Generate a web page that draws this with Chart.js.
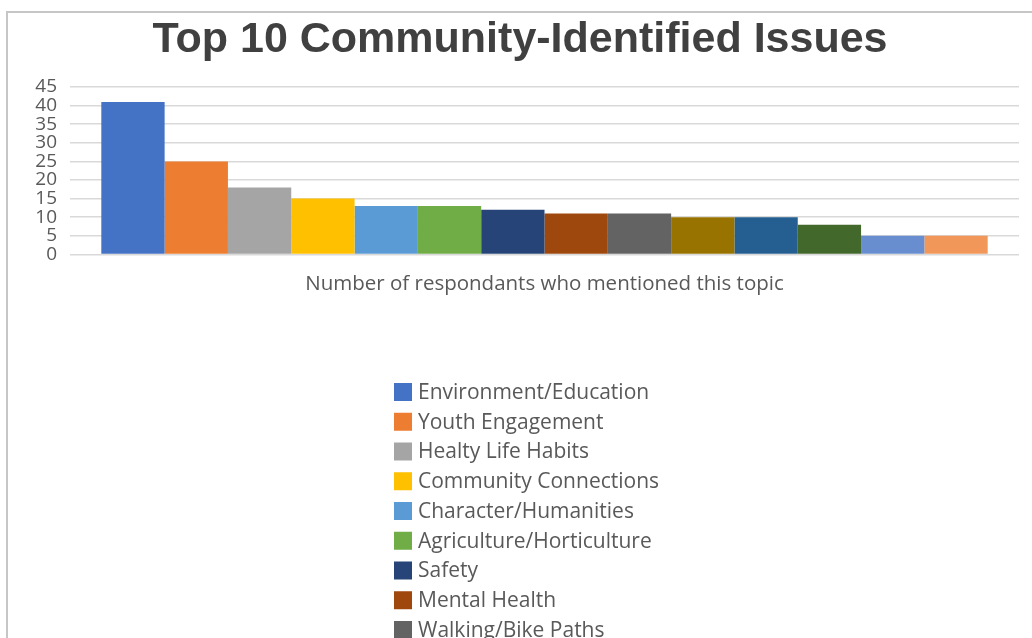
<!DOCTYPE html>
<html>
<head>
<meta charset="utf-8">
<script src="https://cdn.jsdelivr.net/npm/chart.js@4.4.0/dist/chart.umd.min.js"></script>
<style>
  html, body { margin: 0; padding: 0; background: #fff; overflow: hidden; }
  #frame {
    position: absolute; left: 6px; top: 11px;
    width: 1030px; height: 640px;
    border-left: 2px solid #c6c6c6; border-top: 2px solid #c6c6c6;
  }
  canvas { display: block; }
</style>
</head>
<body>
<div id="frame"><canvas id="grafico" width="1024" height="625"></canvas></div>
<script>
// dados
const categorias = ['Number of respondants who mentioned this topic'];
const temas = [
  'Environment/Education', 'Youth Engagement', 'Healty Life Habits',
  'Community Connections', 'Character/Humanities', 'Agriculture/Horticulture',
  'Safety', 'Mental Health', 'Walking/Bike Paths',
  'Topic 10', 'Topic 11', 'Topic 12', 'Topic 13', 'Topic 14'
];
const valores = [41, 25, 18, 15, 13, 13, 12, 11, 11, 10, 10, 8, 5, 5];
const cores = [
  '#4472C4', '#ED7D31', '#A5A5A5', '#FFC000', '#5B9BD5', '#70AD47', '#264478',
  '#9E480E', '#636363', '#997300', '#255E91', '#43682B', '#698ED0', '#F1975A'
];
const ticksY = [0, 5, 10, 15, 20, 25, 30, 35, 40, 45];

const corTexto = '#595959';

// legenda vertical, um item por linha (como no Excel)
const legendaVertical = {
  id: 'legendaVertical',
  afterDraw(chart) {
    const ctx = chart.ctx;
    const x0 = 386, y0 = 370, passo = 29.75, caixa = 18;
    ctx.save();
    ctx.font = '21px "Open Sans"';
    ctx.textBaseline = 'middle';
    ctx.textAlign = 'left';
    chart.data.datasets.forEach((ds, i) => {
      const y = y0 + i * passo;
      if (y > chart.height) return;
      ctx.fillStyle = ds.backgroundColor;
      ctx.fillRect(x0, y, caixa, caixa);
      ctx.fillStyle = corTexto;
      ctx.fillText(ds.label, x0 + 24, y + caixa / 2 + 1);
    });
    ctx.restore();
  }
};

new Chart(document.getElementById('grafico'), {
  type: 'bar',
  data: {
    labels: categorias,
    datasets: temas.map((t, i) => ({
      label: t,
      data: [valores[i]],
      backgroundColor: cores[i],
      borderWidth: 0,
      categoryPercentage: 0.934,
      barPercentage: 1
    }))
  },
  options: {
    responsive: false,
    animation: false,
    layout: { padding: { left: 13, right: 13, top: 0, bottom: 325 } },
    plugins: {
      legend: { display: false },
      tooltip: { enabled: false },
      title: {
        display: true,
        text: 'Top 10 Community-Identified Issues',
        color: '#404040',
        font: { family: '"Liberation Sans", Arial, sans-serif', size: 43, weight: 'bold' },
        padding: { top: 1, bottom: 21.4 }
      }
    },
    scales: {
      x: {
        grid: { display: false, drawTicks: false },
        border: { display: false },
        ticks: {
          color: corTexto,
          font: { family: '"Open Sans"', size: 20.5 },
          padding: 17
        }
      },
      y: {
        min: 0,
        max: 45,
        afterFit: s => { s.width = 49; },
        afterBuildTicks: s => { s.ticks = ticksY.map(v => ({ value: v })); },
        grid: { color: '#d9d9d9', lineWidth: 1.5, drawTicks: false },
        border: { display: false },
        ticks: {
          color: corTexto,
          font: { family: '"Open Sans"', size: 19 },
          padding: 13,
          autoSkip: false
        }
      }
    }
  },
  plugins: [legendaVertical]
});
</script>
</body>
</html>
